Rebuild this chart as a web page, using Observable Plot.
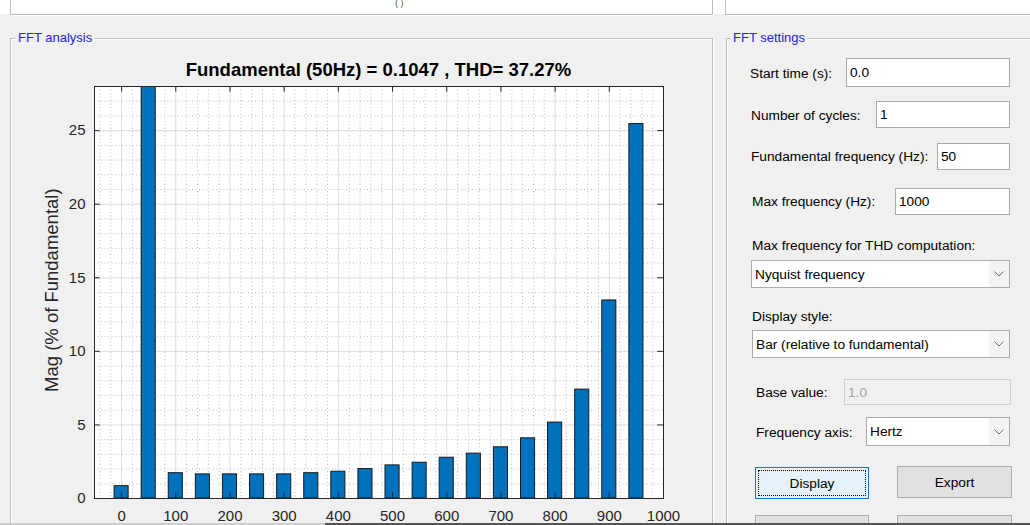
<!DOCTYPE html>
<html><head><meta charset="utf-8">
<script src="https://cdn.jsdelivr.net/npm/d3@7"></script>
<script src="https://cdn.jsdelivr.net/npm/@observablehq/plot@0.6"></script>
<style>
html,body{margin:0;padding:0;}
body{width:1030px;height:525px;overflow:hidden;background:#f0f0f0;position:relative;font-family:"Liberation Sans",Arial,sans-serif;}
.abs{position:absolute;box-sizing:border-box;}
.panel{border:1px solid #bdbdbd;box-shadow:inset 1px 1px 0 #fff, 1px 1px 0 #fff;}
.ptitle{font-size:13px;line-height:13px;color:#2424dc;background:#f0f0f0;padding:0 3px;}
.lbl{font-size:13.7px;line-height:13.7px;color:#000;white-space:nowrap;}
.inp{background:#fff;border:1px solid #a9a9a9;font-size:13.7px;color:#000;display:flex;align-items:center;padding-left:3px;white-space:nowrap;}
.dis{background:#f0f0f0;border:1px solid #cfcfcf;color:#a0a0a0;}
.dd{background:#fff;border:1px solid #acacac;font-size:13.7px;color:#000;display:flex;align-items:center;padding-left:3px;white-space:nowrap;}
.chev{position:absolute;right:0;top:0;bottom:0;width:20px;background:#f3f3f3;display:flex;align-items:center;justify-content:center;}
.btn{background:#e1e1e1;border:1px solid #adadad;font-size:13.7px;color:#000;display:flex;align-items:center;justify-content:center;}
</style></head><body>

<!-- top strip -->
<div class="abs" style="left:0;top:0;width:1030px;height:14px;background:#fff;"></div>
<div class="abs panel" style="left:10px;top:-30px;width:703px;height:45px;background:#fff;"></div>
<div class="abs panel" style="left:725px;top:-30px;width:400px;height:45px;background:#fff;"></div>
<div class="abs" style="left:395px;top:-2px;font-size:9px;color:#555;">( )</div>

<!-- FFT analysis panel -->
<div class="abs panel" style="left:10px;top:38px;width:703px;height:600px;"></div>
<div class="abs ptitle" style="left:15px;top:31px;">FFT analysis</div>

<!-- FFT settings panel -->
<div class="abs panel" style="left:726px;top:38px;width:400px;height:600px;"></div>
<div class="abs ptitle" style="left:730px;top:31px;">FFT settings</div>

<!-- chart -->
<div id="chart" class="abs" style="left:20px;top:50px;"></div>
<div class="abs" style="left:94px;top:61px;width:569px;text-align:center;font-weight:bold;font-size:18.5px;line-height:18.5px;color:#000;white-space:nowrap;">Fundamental (50Hz) = 0.1047 , THD= 37.27%</div>
<div class="abs" style="left:-48px;top:282px;width:200px;text-align:center;font-size:18.5px;line-height:20px;color:#262626;transform:rotate(-90deg);white-space:nowrap;">Mag (% of Fundamental)</div>

<!-- settings controls -->
<div class="abs lbl" style="left:750px;top:67px;">Start time (s):</div>
<div class="abs inp" style="left:846px;top:58px;width:164px;height:29px;">0.0</div>

<div class="abs lbl" style="left:751px;top:109px;">Number of cycles:</div>
<div class="abs inp" style="left:876px;top:101px;width:134px;height:27px;">1</div>

<div class="abs lbl" style="left:751px;top:150px;">Fundamental frequency (Hz):</div>
<div class="abs inp" style="left:937px;top:143px;width:73px;height:27px;">50</div>

<div class="abs lbl" style="left:752px;top:195px;">Max frequency (Hz):</div>
<div class="abs inp" style="left:895px;top:188px;width:115px;height:27px;">1000</div>

<div class="abs lbl" style="left:752px;top:239px;">Max frequency for THD computation:</div>
<div class="abs dd" style="left:751px;top:260px;width:259px;height:28px;">Nyquist frequency<div class="chev"><svg width="10" height="6"><polyline points="0.5,0.5 5,5 9.5,0.5" fill="none" stroke="#707070" stroke-width="1"/></svg></div></div>

<div class="abs lbl" style="left:752px;top:310px;">Display style:</div>
<div class="abs dd" style="left:752px;top:330px;width:258px;height:28px;">Bar (relative to fundamental)<div class="chev"><svg width="10" height="6"><polyline points="0.5,0.5 5,5 9.5,0.5" fill="none" stroke="#707070" stroke-width="1"/></svg></div></div>

<div class="abs lbl" style="left:756px;top:386px;">Base value:</div>
<div class="abs inp dis" style="left:844px;top:379px;width:167px;height:26px;">1.0</div>

<div class="abs lbl" style="left:756px;top:426px;">Frequency axis:</div>
<div class="abs dd" style="left:866px;top:417px;width:144px;height:29px;">Hertz<div class="chev"><svg width="10" height="6"><polyline points="0.5,0.5 5,5 9.5,0.5" fill="none" stroke="#707070" stroke-width="1"/></svg></div></div>

<div class="abs btn" style="left:755px;top:467px;width:114px;height:32px;background:#e5f1fb;border-color:#0078d7;"><div class="abs" style="left:2px;top:2px;right:2px;bottom:2px;border:1px dotted #000;"></div>Display</div>
<div class="abs btn" style="left:897px;top:466px;width:115px;height:32px;">Export</div>
<div class="abs btn" style="left:755px;top:515px;width:114px;height:32px;"></div>
<div class="abs btn" style="left:897px;top:515px;width:115px;height:32px;"></div>

<!-- bottom edge -->
<div class="abs" style="left:0;top:523px;width:325px;height:2px;background:#cdcdcd;"></div>
<div class="abs" style="left:325px;top:523px;width:705px;height:2px;background:#555;"></div>

<script>
// Harmonic frequencies (Hz) and magnitudes (% of fundamental)
const freqs = [0, 50, 100, 150, 200, 250, 300, 350, 400, 450, 500, 550, 600, 650, 700, 750, 800, 850, 900, 950];
const mags  = [0.84, 100, 1.72, 1.64, 1.64, 1.64, 1.64, 1.72, 1.82, 2.0, 2.25, 2.43, 2.77, 3.05, 3.48, 4.09, 5.16, 7.4, 13.46, 25.45];
const xTicks = [0, 100, 200, 300, 400, 500, 600, 700, 800, 900, 1000];
const yTicks = [0, 5, 10, 15, 20, 25];
const xDomain = [-50, 1000];
const yDomain = [0, 28];

const data = freqs.map((f, i) => ({f, m: mags[i]}));
const barHalf = 13;
const xMinor = d3.range(-40, 1001, 20).filter(v => v % 100 !== 0);
const yMinor = d3.range(1, 28, 1).filter(v => v % 5 !== 0);

const W = 680, H = 475, mL = 74, mR = 37, mT = 36, mB = 27;
const tickPx = 5.7;
const tx = tickPx * (xDomain[1] - xDomain[0]) / (W - mL - mR);
const ty = tickPx * (yDomain[1] - yDomain[0]) / (H - mT - mB);

const chart = Plot.plot({
  width: W, height: H,
  marginLeft: mL, marginRight: mR, marginTop: mT, marginBottom: mB,
  x: {domain: xDomain},
  y: {domain: yDomain},
  style: {background: "transparent", fontFamily: "'Liberation Sans', Arial, sans-serif", fontSize: "15px", color: "#262626", overflow: "visible"},
  marks: [
    Plot.frame({fill: "white", stroke: null}),
    Plot.ruleX(xMinor, {stroke: "#bdbdbd", strokeDasharray: "1,2.5", strokeWidth: 1}),
    Plot.ruleY(yMinor, {stroke: "#bdbdbd", strokeDasharray: "1,2.5", strokeWidth: 1}),
    Plot.ruleX(xTicks, {stroke: "#dcdcdc", strokeWidth: 1}),
    Plot.ruleY(yTicks, {stroke: "#dcdcdc", strokeWidth: 1}),
    Plot.rect(data, {x1: d => d.f - barHalf, x2: d => d.f + barHalf, y1: 0, y2: "m", fill: "#0072BD", stroke: "#1a1a1a", strokeWidth: 1, clip: true}),
    Plot.ruleY(yTicks, {x1: xDomain[0], x2: xDomain[0] + tx, stroke: "#262626"}),
    Plot.ruleY(yTicks, {x1: xDomain[1] - tx, x2: xDomain[1], stroke: "#262626"}),
    Plot.ruleX(xTicks, {y1: yDomain[0], y2: yDomain[0] + ty, stroke: "#262626"}),
    Plot.ruleX(xTicks, {y1: yDomain[1] - ty, y2: yDomain[1], stroke: "#262626"}),
    Plot.frame({stroke: "#262626", strokeWidth: 1}),
    Plot.axisX({ticks: xTicks, tickSize: 0, tickPadding: 12, label: null, tickFormat: d => String(d), fill: "#262626"}),
    Plot.axisY({ticks: yTicks, tickSize: 0, tickPadding: 9, label: null, tickFormat: d => String(d), fill: "#262626"})
  ]
});
document.getElementById("chart").appendChild(chart);
</script>
</body></html>
